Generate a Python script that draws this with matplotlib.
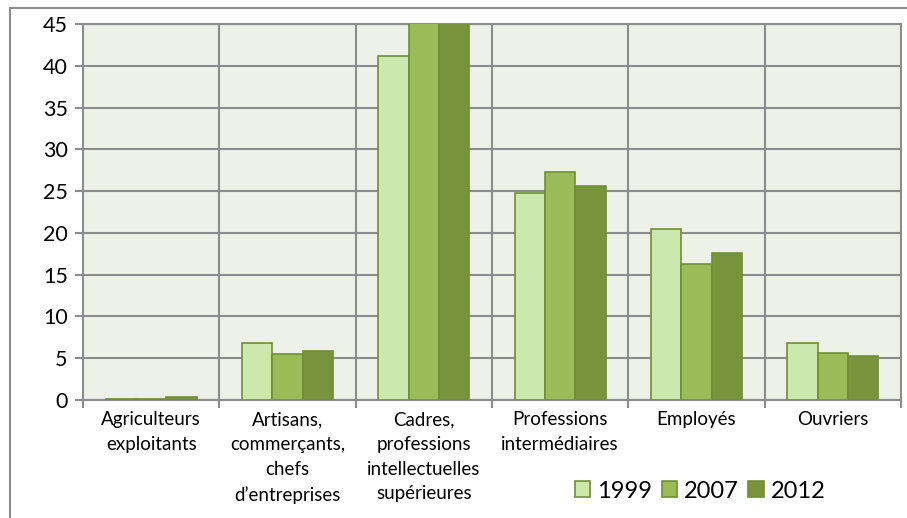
import numpy as np
import matplotlib
matplotlib.use("Agg")
import matplotlib.pyplot as plt
from matplotlib.patches import Rectangle

categories = ["Agriculteurs\nexploitants",
              "Artisans,\ncommerçants,\nchefs\nd’entreprises",
              "Cadres,\nprofessions\nintellectuelles\nsupérieures",
              "Professions\nintermédiaires",
              "Employés",
              "Ouvriers"]
years = ["1999", "2007", "2012"]
v1999 = [0.1, 6.8, 41.2, 24.8, 20.5, 6.8]
v2007 = [0.1, 5.5, 48.0, 27.3, 16.3, 5.6]
v2012 = [0.3, 5.85, 47.0, 25.6, 17.6, 5.3]

fills = ["#cce8ad", "#9bbb59", "#77933c"]
edge = "#6f8f36"
grid_col = "#8c8c8c"

plt.rcParams['font.family'] = ['Lato', 'DejaVu Sans']

fig = plt.figure(figsize=(9.07, 5.18), dpi=100)
ax = fig.add_axes([0.0915, 0.2278, 0.9019, 0.7259])
ax.set_facecolor("#eef1e8")

# outer chart frame
fig.patches.append(Rectangle((0.0105, -0.01), 0.995, 0.995, transform=fig.transFigure,
                             fill=False, edgecolor="#8c8c8c", linewidth=1.5))

x = np.arange(len(categories))
w = 1 / 4.5
for i, (vals, c) in enumerate(zip([v1999, v2007, v2012], fills)):
    ax.bar(x + (i - 1) * w, vals, width=w, color=c, edgecolor=edge,
           linewidth=1.2, label=years[i], zorder=3)

ax.set_xlim(-0.5, len(categories) - 0.5)
ax.set_ylim(0, 45)
ax.set_yticks(np.arange(0, 46, 5))
ax.yaxis.grid(True, color=grid_col, linewidth=1.5, zorder=1)
ax.set_axisbelow(True)
for b in np.arange(0.5, len(categories) - 0.5, 1):
    ax.axvline(b, color=grid_col, linewidth=1.5, zorder=1)

ax.set_xticks(np.arange(-0.5, len(categories), 1), minor=False)
ax.set_xticklabels([])
ax.set_xticks(x, minor=True)
ax.set_xticklabels(categories, minor=True, fontsize=13.5, linespacing=1.55)
ax.tick_params(axis="x", which="major", length=6, width=1.5, color=grid_col)
ax.tick_params(axis="x", which="minor", length=0, pad=8)
ax.tick_params(axis="y", length=6, width=1.5, color=grid_col, labelsize=15.5, pad=5)
for s in ax.spines.values():
    s.set_color(grid_col)
    s.set_linewidth(1.5)

ax.legend(loc="center", bbox_to_anchor=(0.772, 0.052), bbox_transform=fig.transFigure,
          ncol=3, frameon=False, fontsize=17, handlelength=0.65, handleheight=0.65,
          handletextpad=0.3, columnspacing=0.4, borderaxespad=0, borderpad=0)

fig.savefig("out.png", dpi=100)
